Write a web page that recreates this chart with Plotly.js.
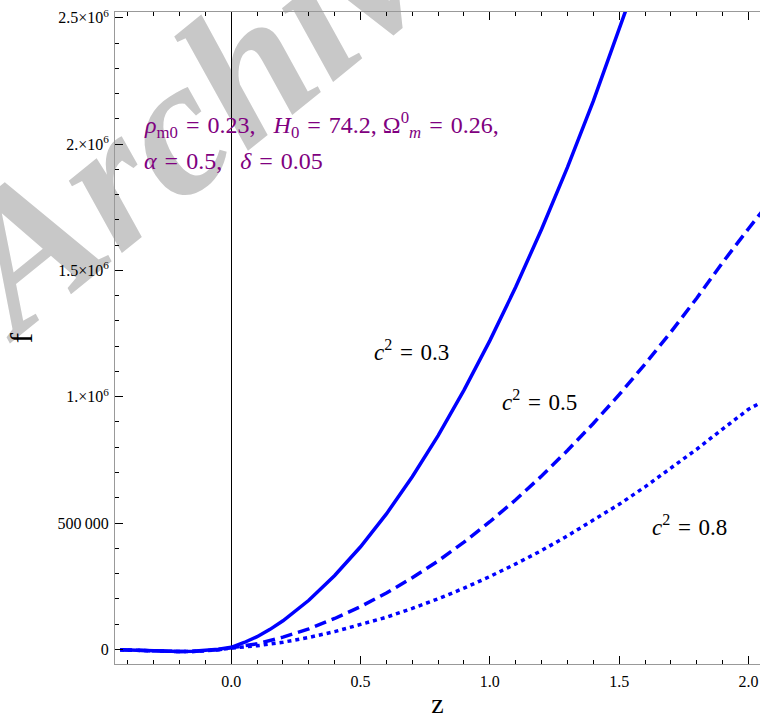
<!DOCTYPE html>
<html>
<head>
<meta charset="utf-8">
<script src="https://cdn.plot.ly/plotly-3.0.1.min.js"></script>
<style>html,body{margin:0;padding:0;background:#fff;}#chart{width:760px;height:719px;}</style>
</head>
<body>
<div id="chart"></div>
<script>
// ---- data ----
const zSolid = [-0.43,-0.4,-0.35,-0.3,-0.25,-0.2,-0.15,-0.1,-0.05,0,0.05,0.1,0.15,0.2,0.3,0.4,0.5,0.6,0.7,0.8,0.9,1.0,1.1,1.2,1.3,1.4,1.5,1.6];
const fSolid = [-2000,-3000,-5000,-7000,-8500,-9000,-8000,-5000,0,8000,27000,50000,79000,113000,194000,292000,406000,536000,683000,846000,1026000,1222000,1434000,1663000,1908000,2170000,2448000,2742000];

const zGrid = [-0.43,-0.4,-0.35,-0.3,-0.25,-0.2,-0.15,-0.1,-0.05,0,0.05,0.1,0.2,0.3,0.4,0.5,0.6,0.7,0.8,0.9,1.0,1.1,1.2,1.3,1.4,1.5,1.6,1.7,1.8,1.9,2.0,2.05];
const fDash = [-2000,-3000,-5000,-7000,-8500,-9000,-8500,-6000,-2000,6000,13000,22000,48000,81000,122000,169000,223000,283000,350000,424000,505000,592000,686000,787000,894000,1008000,1129000,1256000,1390000,1531000,1665000,1730000];
const fDot  = [-2000,-3000,-5000,-7000,-8500,-9000,-8500,-6000,-2000,5000,9000,14000,28000,47000,70000,97000,127000,162000,200000,242000,288000,338000,391000,449000,510000,574000,643000,716000,792000,872000,950000,978000];

const xTickVals = [0,0.5,1,1.5,2];
const xTickText = ['0.0','0.5','1.0','1.5','2.0'];
const xMinorVals = [-0.4,-0.3,-0.2,-0.1,0.1,0.2,0.3,0.4,0.6,0.7,0.8,0.9,1.1,1.2,1.3,1.4,1.6,1.7,1.8,1.9];
const yTickVals = [0,500000,1000000,1500000,2000000,2500000];
const yTickText = ['0','500\u2009000','1.\u00d710<sup>6</sup>','1.5\u00d710<sup>6</sup>','2.\u00d710<sup>6</sup>','2.5\u00d710<sup>6</sup>'];
const yMinorVals = [100000,200000,300000,400000,600000,700000,800000,900000,1100000,1200000,1300000,1400000,1600000,1700000,1800000,1900000,2100000,2200000,2300000,2400000];

const EQ = '\u2004=\u2004';
const curveLabels = ['<i>c</i><sup>2</sup>' + EQ + '0.3', '<i>c</i><sup>2</sup>' + EQ + '0.5', '<i>c</i><sup>2</sup>' + EQ + '0.8'];
const paramLine1 = '<i>\u03c1</i><sub>m0</sub>' + EQ + '0.23,\u2002 <i>H</i><sub>0</sub>' + EQ + '74.2, \u03a9<sup>0</sup><sub><i>m</i></sub>' + EQ + '0.26,';
const paramLine2 = '<i>\u03b1</i>' + EQ + '0.5,\u2002 <i>\u03b4</i>' + EQ + '0.05';
const watermark = 'Archive';

const serif = 'Liberation Serif, Times New Roman, serif';
const blue = '#0000ff';

const traces = [
  {x: zSolid, y: fSolid, mode: 'lines', line: {color: blue, width: 3.5}, hoverinfo: 'skip'},
  {x: zGrid, y: fDash, mode: 'lines', line: {color: blue, width: 3.5, dash: '12px,6px'}, hoverinfo: 'skip'},
  {x: zGrid, y: fDot, mode: 'lines', line: {color: blue, width: 3.5, dash: '4px,4px'}, hoverinfo: 'skip'}
];

// paper helpers from pixel layout (plot area 115..760 x 12..664)
const PL = 115, PW = 645, PT = 12, PH = 652;
const px = v => (v - PL) / PW;
const py = v => (PT + PH - v) / PH;

const layout = {
  width: 760, height: 719,
  margin: {l: PL, r: 0, t: PT, b: 719 - PT - PH, pad: 0},
  paper_bgcolor: '#ffffff', plot_bgcolor: '#ffffff',
  showlegend: false,
  font: {family: serif, color: '#000'},
  xaxis: {
    range: [-0.4496, 2.0447],
    tickmode: 'array', tickvals: xTickVals, ticktext: xTickText,
    ticks: 'inside', ticklen: 8, tickwidth: 1, tickcolor: '#000',
    ticklabelstandoff: 3,
    showline: true, linecolor: '#999', linewidth: 1, mirror: 'ticks',
    zeroline: true, zerolinecolor: '#000', zerolinewidth: 1,
    showgrid: false,
    tickfont: {family: serif, size: 16, color: '#000'},
    minor: {tickmode: 'array', tickvals: xMinorVals, ticks: 'inside', ticklen: 4, tickwidth: 1, tickcolor: '#000', showgrid: false},
    title: {text: 'z', font: {family: serif, size: 28, color: '#000'}, standoff: 4},
    automargin: false, fixedrange: true
  },
  yaxis: {
    range: [-58200, 2523000],
    tickmode: 'array', tickvals: yTickVals, ticktext: yTickText,
    ticks: 'inside', ticklen: 8, tickwidth: 1, tickcolor: '#000',
    ticklabelstandoff: 2,
    showline: true, linecolor: '#999', linewidth: 1, mirror: false,
    zeroline: false, showgrid: false,
    tickfont: {family: serif, size: 16, color: '#000'},
    minor: {tickmode: 'array', tickvals: yMinorVals, ticks: 'inside', ticklen: 4, tickwidth: 1, tickcolor: '#000', showgrid: false},
    title: {text: 'f', font: {family: serif, size: 31, color: '#000'}, standoff: 15},
    automargin: false, fixedrange: true
  },
  shapes: [{
    type: 'rect', xref: 'paper', yref: 'paper',
    x0: px(207), x1: px(207), y0: py(72), y1: py(72),
    line: {width: 0}, fillcolor: 'rgba(0,0,0,0)', layer: 'below',
    label: {text: '<b><i>' + watermark + '</i></b>', textangle: -39, textposition: 'middle center',
            font: {family: serif, size: 195, color: '#c8c8c8'}}
  }],
  annotations: [
    {xref: 'paper', yref: 'paper', x: px(142), y: py(125), xanchor: 'left', yanchor: 'middle', showarrow: false,
     text: paramLine1, font: {family: serif, size: 24, color: '#800080'}},
    {xref: 'paper', yref: 'paper', x: px(142), y: py(161), xanchor: 'left', yanchor: 'middle', showarrow: false,
     text: paramLine2, font: {family: serif, size: 24, color: '#800080'}},
    {xref: 'paper', yref: 'paper', x: px(411), y: py(350), xanchor: 'center', yanchor: 'middle', showarrow: false,
     text: curveLabels[0], font: {family: serif, size: 23, color: '#000'}},
    {xref: 'paper', yref: 'paper', x: px(539), y: py(400), xanchor: 'center', yanchor: 'middle', showarrow: false,
     text: curveLabels[1], font: {family: serif, size: 23, color: '#000'}},
    {xref: 'paper', yref: 'paper', x: px(689), y: py(525), xanchor: 'center', yanchor: 'middle', showarrow: false,
     text: curveLabels[2], font: {family: serif, size: 23, color: '#000'}}
  ]
};

Plotly.newPlot('chart', traces, layout, {staticPlot: true, displayModeBar: false});
</script>
</body>
</html>
